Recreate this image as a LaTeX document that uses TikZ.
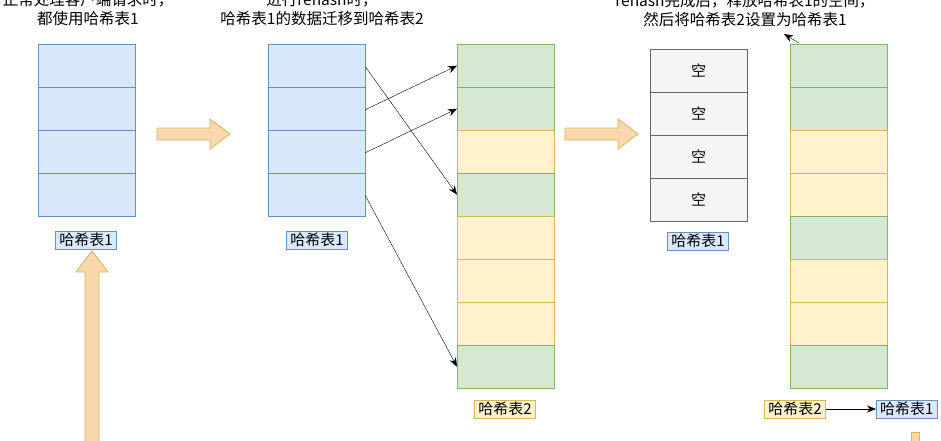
\documentclass[tikz,border=0pt]{standalone}
\usepackage{fontspec}
\setmainfont{Noto Sans CJK SC}
\usetikzlibrary{arrows.meta,positioning}
\definecolor{blueF}{HTML}{DAE8FC}\definecolor{blueD}{HTML}{6C8EBF}
\definecolor{greenF}{HTML}{D5E8D4}\definecolor{greenD}{HTML}{82B366}
\definecolor{yellowF}{HTML}{FFF2CC}\definecolor{yellowD}{HTML}{D6B656}
\definecolor{grayF}{HTML}{F5F5F5}\definecolor{grayD}{HTML}{666666}
\definecolor{arrowF}{HTML}{FAD7AC}

\begin{document}
\begin{tikzpicture}
  [x=1pt,y=-1pt,>={Stealth[length=9pt,width=7pt]},
  cell/.style={draw,minimum width=97pt,minimum height=43pt,inner sep=0pt,anchor=north west},
  blue cell/.style={cell,fill=blueF,draw=blueD},
  gray cell/.style={cell,fill=grayF,draw=grayD,font=\fontsize{15}{17}\selectfont},
  tag/.style={draw,inner xsep=4pt,inner ysep=2pt,font=\fontsize{15}{17}\selectfont},
  note/.style={align=center,font=\fontsize{15.5}{19}\selectfont},
  fat arrow/.style={fill=arrowF,draw=yellowD,line width=0.8pt}]
  \useasboundingbox (0,0) rectangle (941,440);

  % notes
  \node[note] (n1) at (88,9) {正常处理客户端请求时，\\都使用哈希表1};
  \node[note] (n2) at (322,9) {进行rehash时，\\哈希表1的数据迁移到哈希表2};
  \node[note] (n3) at (745,10) {rehash完成后，释放哈希表1的空间，\\然后将哈希表2设置为哈希表1};

  % tables
  \foreach \i in {1,...,4} {
    \node[blue cell] (a\i) at (38,{44+43*(\i-1)}) {};
    \node[blue cell] (b\i) at (268,{44+43*(\i-1)}) {};
    \node[gray cell] (e\i) at (650,{49+43*(\i-1)}) {空};
  }
  \foreach \c [count=\i] in {green,green,yellow,green,yellow,yellow,yellow,green}
    \node[cell,fill=\c F,draw=\c D] (c\i) at (457,{44+43*(\i-1)}) {};
  \foreach \c [count=\i] in {green,green,yellow,yellow,green,yellow,yellow,green}
    \node[cell,fill=\c F,draw=\c D] (d\i) at (790,{44+43*(\i-1)}) {};

  % labels
  \node[tag,fill=blueF,draw=blueD] (la) at (86,240) {哈希表1};
  \node[tag,fill=blueF,draw=blueD] (lb) at (317,240) {哈希表1};
  \node[tag,fill=yellowF,draw=yellowD] (lc) at (505,409) {哈希表2};
  \node[tag,fill=blueF,draw=blueD] (le) at (698,241) {哈希表1};
  \node[tag,fill=yellowF,draw=yellowD] (ld) at (795,409) {哈希表2};
  \node[tag,fill=blueF,draw=blueD,anchor=west] (lf) at (876,409) {哈希表1};

  % migration
  \draw[->] ([yshift=-1pt]b1.east) -- (c4.west);
  \draw[->] ([yshift=-1pt]b2.east) -- (c1.west);
  \draw[->] ([yshift=-1pt]b3.east) -- (c2.west);
  \draw[->] ([yshift=-1pt]b4.east) -- (c8.west);
  \draw[->] (ld) -- (lf);
  \coordinate (d0) at (799,43);
  \coordinate (n3end) at (784,34);
  \draw[->] (d0) -- (n3end);

  % fat arrows
  \draw[fat arrow] (157,128)--(210,128)--(210,119)--(230,134)--(210,149)--(210,140)--(157,140)--cycle;
  \draw[fat arrow] (565,128)--(618,128)--(618,119)--(638,134)--(618,149)--(618,140)--(565,140)--cycle;
  \draw[fat arrow] (85,450)--(85,272)--(76,272)--(92,251)--(108,272)--(99,272)--(99,450)--cycle;
  \draw[fat arrow] (911,450)--(911,432)--(919,432)--(919,450)--cycle;
\end{tikzpicture}
\end{document}
